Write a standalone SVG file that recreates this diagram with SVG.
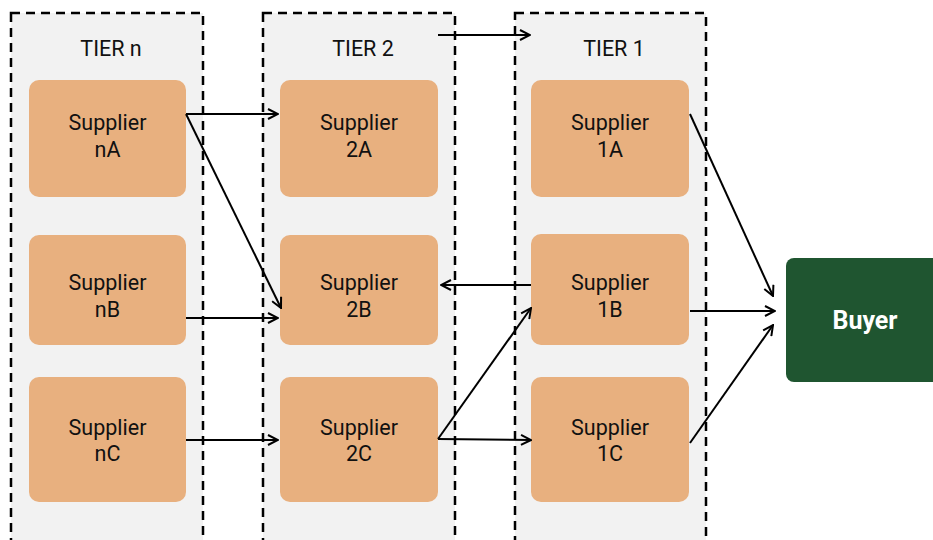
<svg xmlns="http://www.w3.org/2000/svg" width="933" height="540" viewBox="0 0 933 540">
  <style>
    .tier { fill: #f2f2f2; stroke: #000; stroke-width: 2.5; stroke-dasharray: 9 6; }
    .sup { fill: #e8b07f; }
    .lbl { font-family: Roboto, "Liberation Sans", sans-serif; font-size: 21.5px; fill: #111; text-anchor: middle; }
    .buyer { fill: #1f5530; }
    .buyer-t { font-family: Roboto, "Liberation Sans", sans-serif; font-size: 25px; font-weight: bold; fill: #fff; text-anchor: middle; }
    .edge { fill: none; stroke: #000; stroke-width: 2; marker-end: url(#arr); }
  </style>
  <defs>
    <marker id="arr" viewBox="0 0 12 12" refX="11" refY="6" markerWidth="12" markerHeight="12" markerUnits="userSpaceOnUse" orient="auto">
      <path d="M1,1 L11,6 L1,11" fill="none" stroke="#000" stroke-width="2"/>
    </marker>
  </defs>

  <!-- tier containers -->
  <g id="tier-n">
    <rect class="tier" x="11" y="13" width="192" height="540"/>
    <text class="lbl" x="111" y="56">TIER n</text>
  </g>
  <g id="tier-2">
    <rect class="tier" x="263" y="13" width="192" height="540"/>
    <text class="lbl" x="363" y="56">TIER 2</text>
  </g>
  <g id="tier-1">
    <rect class="tier" x="515" y="13" width="191" height="540"/>
    <text class="lbl" x="614" y="56">TIER 1</text>
  </g>

  <!-- suppliers -->
  <g id="supplier-nA">
    <rect class="sup" x="29" y="80" width="157" height="117" rx="10"/>
    <text class="lbl" x="107.5" y="130">Supplier</text>
    <text class="lbl" x="107.5" y="157">nA</text>
  </g>
  <g id="supplier-nB">
    <rect class="sup" x="29" y="235" width="157" height="110" rx="10"/>
    <text class="lbl" x="107.5" y="290">Supplier</text>
    <text class="lbl" x="107.5" y="317">nB</text>
  </g>
  <g id="supplier-nC">
    <rect class="sup" x="29" y="377" width="157" height="125" rx="10"/>
    <text class="lbl" x="107.5" y="435">Supplier</text>
    <text class="lbl" x="107.5" y="461">nC</text>
  </g>

  <g id="supplier-2A">
    <rect class="sup" x="280" y="80" width="158" height="117" rx="10"/>
    <text class="lbl" x="359" y="130">Supplier</text>
    <text class="lbl" x="359" y="157">2A</text>
  </g>
  <g id="supplier-2B">
    <rect class="sup" x="280" y="235" width="158" height="110" rx="10"/>
    <text class="lbl" x="359" y="290">Supplier</text>
    <text class="lbl" x="359" y="317">2B</text>
  </g>
  <g id="supplier-2C">
    <rect class="sup" x="280" y="377" width="158" height="125" rx="10"/>
    <text class="lbl" x="359" y="435">Supplier</text>
    <text class="lbl" x="359" y="461">2C</text>
  </g>

  <g id="supplier-1A">
    <rect class="sup" x="531" y="80" width="158" height="117" rx="10"/>
    <text class="lbl" x="610" y="130">Supplier</text>
    <text class="lbl" x="610" y="157">1A</text>
  </g>
  <g id="supplier-1B">
    <rect class="sup" x="531" y="234" width="158" height="111" rx="10"/>
    <text class="lbl" x="610" y="290">Supplier</text>
    <text class="lbl" x="610" y="317">1B</text>
  </g>
  <g id="supplier-1C">
    <rect class="sup" x="531" y="377" width="158" height="125" rx="10"/>
    <text class="lbl" x="610" y="435">Supplier</text>
    <text class="lbl" x="610" y="461">1C</text>
  </g>

  <g id="buyer">
    <rect class="buyer" x="786" y="258" width="160" height="124" rx="8"/>
    <text class="buyer-t" x="865" y="329">Buyer</text>
  </g>

  <!-- connectors -->
  <g id="connectors">
    <line class="edge" x1="186" y1="114" x2="278" y2="114"/>
    <line class="edge" x1="186" y1="114" x2="281" y2="308"/>
    <line class="edge" x1="186" y1="318" x2="278" y2="318"/>
    <line class="edge" x1="186" y1="440" x2="278" y2="440"/>
    <line class="edge" x1="438" y1="35" x2="530" y2="35"/>
    <line class="edge" x1="531" y1="285" x2="441" y2="285"/>
    <line class="edge" x1="438" y1="439" x2="531" y2="308"/>
    <line class="edge" x1="438" y1="439" x2="531" y2="440"/>
    <line class="edge" x1="690" y1="114" x2="773" y2="296"/>
    <line class="edge" x1="690" y1="311" x2="775" y2="311"/>
    <line class="edge" x1="690" y1="443" x2="773" y2="325"/>
  </g>
</svg>
